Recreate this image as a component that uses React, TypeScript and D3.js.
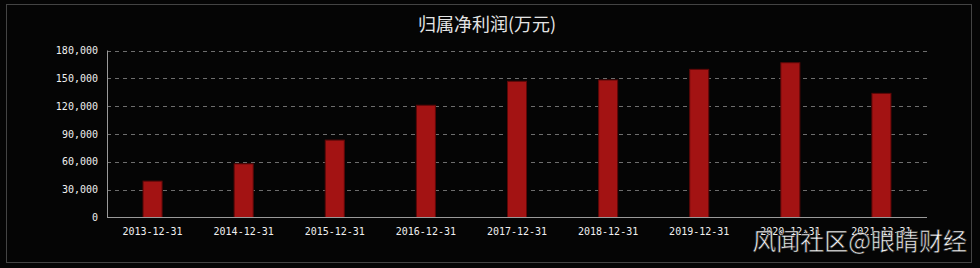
import React from "react";
import * as d3 from "d3";

const categories = [
  "2013-12-31", "2014-12-31", "2015-12-31", "2016-12-31", "2017-12-31",
  "2018-12-31", "2019-12-31", "2020-12-31", "2021-12-31",
];
const profit = [39200, 57800, 83400, 121000, 146800, 148200, 159700, 166800, 133800];
const yTicks = [0, 30000, 60000, 90000, 120000, 150000, 180000];
const title = "归属净利润(万元)";
const watermark = "风闻社区@眼睛财经";

const W = 980;
const H = 268;
const left = 107;
const right = 927;
const top = 50.5;
const bottom = 217.5;

export default function App() {
  const x = d3.scaleBand<string>().domain(categories).range([left, right]).paddingInner(0.78).paddingOuter(0.39);
  const y = d3.scaleLinear().domain([0, 180000]).range([bottom, top]);
  const fmt = d3.format(",");
  const mono = "'DejaVu Sans Mono', 'Liberation Mono', monospace";
  return (
    <svg width={W} height={H} style={{ position: "fixed", left: 0, top: 0, background: "#050505" }}>
      <rect x={0} y={0} width={W} height={H} fill="#050505" />
      <rect x={6.5} y={4.5} width={965} height={258} fill="none" stroke="#444" strokeWidth={1} />
      <text x={487} y={31} textAnchor="middle" fill="#e4e4e4" fontSize={18}
        fontFamily="'Noto Sans CJK SC', sans-serif">{title}</text>
      {yTicks.map((t) => (
        <g key={t}>
          {t > 0 && (
            <line x1={left} x2={right} y1={Math.round(y(t)) + 0.5} y2={Math.round(y(t)) + 0.5}
              stroke="#6e6e6e" strokeWidth={1} strokeDasharray="4,4" />
          )}
          <text x={98} y={y(t)} dy="0.35em" textAnchor="end" fill="#f0f0f0" fontSize={10}
            fontFamily={mono}>{fmt(t)}</text>
        </g>
      ))}
      {categories.map((c, i) => (
        <rect key={c} x={x(c)! + 0.5} y={y(profit[i])} width={x.bandwidth() - 1}
          height={bottom - y(profit[i])} fill="#a31313" stroke="#5c0808" strokeWidth={1} />
      ))}
      <line x1={left + 0.5} x2={left + 0.5} y1={top} y2={bottom} stroke="#9a9a9a" strokeWidth={1} />
      <line x1={left} x2={right} y1={bottom} y2={bottom} stroke="#9a9a9a" strokeWidth={1} />
      {categories.map((c) => (
        <text key={c} x={x(c)! + x.bandwidth() / 2} y={231} dy="0.35em" textAnchor="middle"
          fill="#f0f0f0" fontSize={10} fontFamily={mono}>{c}</text>
      ))}
      <text x={967} y={250} textAnchor="end" fill="#f4f4f4" stroke="#222" strokeWidth={0.6}
        fontSize={24} fontFamily="'Noto Sans CJK SC', sans-serif">{watermark}</text>
    </svg>
  );
}
